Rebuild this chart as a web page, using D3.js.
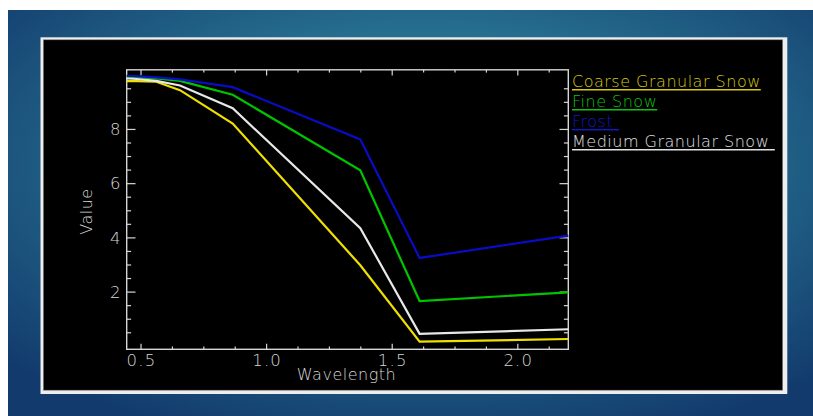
<!DOCTYPE html>
<html>
<head>
<meta charset="utf-8">
<script src="https://cdn.jsdelivr.net/npm/d3@7"></script>
<style>
  html, body { margin: 0; padding: 0; background: #ffffff; }
  svg { display: block; }
  text { font-family: "DejaVu Sans", sans-serif; font-weight: 200; }
</style>
</head>
<body>
<svg id="chart" width="813" height="416"></svg>
<script>
// ---- data ----
const wavelengths = [0.443, 0.482, 0.561, 0.655, 0.865, 1.373, 1.609, 2.201];
const coarseGranularSnow = [9.78, 9.78, 9.76, 9.45, 8.22, 2.99, 0.17, 0.27];
const fineSnow = [9.95, 9.93, 9.88, 9.79, 9.28, 6.49, 1.67, 1.99];
const frost = [9.98, 9.97, 9.92, 9.85, 9.56, 7.63, 3.26, 4.08];
const mediumGranularSnow = [9.88, 9.86, 9.79, 9.62, 8.78, 4.36, 0.46, 0.63];
const seriesNames = ["Coarse Granular Snow", "Fine Snow", "Frost", "Medium Granular Snow"];
const legendLabels = ["Coarse Granular Snow", "Fine Snow", "Frost ", "Medium Granular Snow "];
const xTickValues = [0.5, 1.0, 1.5, 2.0];
const xTickLabels = ["0.5", "1.0", "1.5", "2.0"];
const yTickValues = [2, 4, 6, 8];
const yTickLabels = ["2", "4", "6", "8"];
const xTitle = "Wavelength";
const yTitle = "Value";

const seriesValues = [coarseGranularSnow, fineSnow, frost, mediumGranularSnow];
const colors = ["#f0e000", "#00c400", "#0a0cc4", "#e8e8e8"];
const legendColors = ["#d8c810", "#10c010", "#1018c0", "#e0e0e0"];
const axisColor = "#d6d6d6";

const svg = d3.select("#chart");

// ---- background slide ----
const defs = svg.append("defs");
const rg = defs.append("radialGradient").attr("id", "bg")
  .attr("cx", "0.52").attr("cy", "0.38").attr("r", "0.72");
rg.append("stop").attr("offset", "0").attr("stop-color", "#2f8399");
rg.append("stop").attr("offset", "0.45").attr("stop-color", "#266f8f");
rg.append("stop").attr("offset", "1").attr("stop-color", "#123a6c");
svg.append("rect").attr("x", 8).attr("y", 10).attr("width", 805).attr("height", 406).attr("fill", "url(#bg)");

// panel
svg.append("rect").attr("x", 40.5).attr("y", 37.3).attr("width", 746.8).attr("height", 356.7).attr("fill", "#eeeeee");
svg.append("rect").attr("x", 43.3).attr("y", 39.8).attr("width", 739.4).attr("height", 350.4).attr("fill", "#000000")
  .attr("stroke", "#888").attr("stroke-width", 0.6);

// ---- scales ----
const x = d3.scaleLinear().domain([0.443, 2.201]).range([126.7, 568.3]);
const y = d3.scaleLinear().domain([-0.11, 10.2]).range([349.3, 69.8]);

const pLeft = x.range()[0], pRight = x.range()[1], pTop = y.range()[1], pBottom = y.range()[0];

const xMinor = d3.range(0.5, 2.2, 0.125).filter(v => xTickValues.every(t => Math.abs(t - v) > 1e-6));
const yMinor = d3.range(0.5, 10.01, 0.5).filter(v => [0, 2, 4, 6, 8, 10].every(t => Math.abs(t - v) > 1e-6));

const g = svg.append("g");
const majX = 5.6, minX = 2.8, majY = 8.8, minY = 4.4;

function vTicks(vals, len) {
  vals.forEach(v => {
    g.append("line").attr("x1", x(v)).attr("x2", x(v)).attr("y1", pBottom).attr("y2", pBottom - len)
      .attr("stroke", axisColor).attr("stroke-width", 1.2);
    g.append("line").attr("x1", x(v)).attr("x2", x(v)).attr("y1", pTop).attr("y2", pTop + len)
      .attr("stroke", axisColor).attr("stroke-width", 1.2);
  });
}
function hTicks(vals, len) {
  vals.forEach(v => {
    g.append("line").attr("y1", y(v)).attr("y2", y(v)).attr("x1", pLeft).attr("x2", pLeft + len)
      .attr("stroke", axisColor).attr("stroke-width", 1.2);
    g.append("line").attr("y1", y(v)).attr("y2", y(v)).attr("x1", pRight).attr("x2", pRight - len)
      .attr("stroke", axisColor).attr("stroke-width", 1.2);
  });
}
vTicks(xTickValues, majX);
vTicks(xMinor, minX);
hTicks(yTickValues, majY);
hTicks(yMinor, minY);

g.append("rect").attr("x", pLeft).attr("y", pTop).attr("width", pRight - pLeft).attr("height", pBottom - pTop)
  .attr("fill", "none").attr("stroke", axisColor).attr("stroke-width", 1.4);

// tick labels
g.selectAll(".xl").data(xTickValues).join("text")
  .attr("x", d => x(d) + 0.5).attr("y", 366.2).attr("text-anchor", "middle")
  .attr("fill", axisColor).attr("font-size", 16.5).attr("letter-spacing", 1.2)
  .text((d, i) => xTickLabels[i]);
g.selectAll(".yl").data(yTickValues).join("text")
  .attr("x", 120.5).attr("y", d => y(d) + 5.8).attr("text-anchor", "end")
  .attr("fill", axisColor).attr("font-size", 16.5)
  .text((d, i) => yTickLabels[i]);

// titles
g.append("text").attr("x", (pLeft + pRight) / 2 - 1).attr("y", 379.5).attr("text-anchor", "middle")
  .attr("fill", axisColor).attr("font-size", 16).attr("letter-spacing", 0.5).text(xTitle);
g.append("text").attr("transform", `translate(91.5, ${(pTop + pBottom) / 2 + 2}) rotate(-90)`)
  .attr("text-anchor", "middle").attr("fill", axisColor).attr("font-size", 16).attr("letter-spacing", 0.5).text(yTitle);

// ---- lines ----
const line = d3.line().x(d => x(d[0])).y(d => y(d[1]));
seriesValues.forEach((vals, i) => {
  const pts = wavelengths.map((w, j) => [w, vals[j]]);
  g.append("path").attr("d", line(pts)).attr("fill", "none")
    .attr("stroke", colors[i]).attr("stroke-width", 2.2).attr("stroke-linejoin", "miter");
});

// ---- legend ----
legendLabels.forEach((lab, i) => {
  const by = 86.7 + i * 20;
  const t = g.append("text").attr("x", 572).attr("y", by)
    .attr("fill", legendColors[i]).attr("font-size", 16).attr("letter-spacing", 0.5)
    .attr("xml:space", "preserve").style("white-space", "pre")
    .text(lab);
  const w = t.node().getComputedTextLength();
  g.append("line").attr("x1", 572).attr("x2", 572 + w).attr("y1", by + 3).attr("y2", by + 3)
    .attr("stroke", legendColors[i]).attr("stroke-width", 1.5);
});
</script>
</body>
</html>
